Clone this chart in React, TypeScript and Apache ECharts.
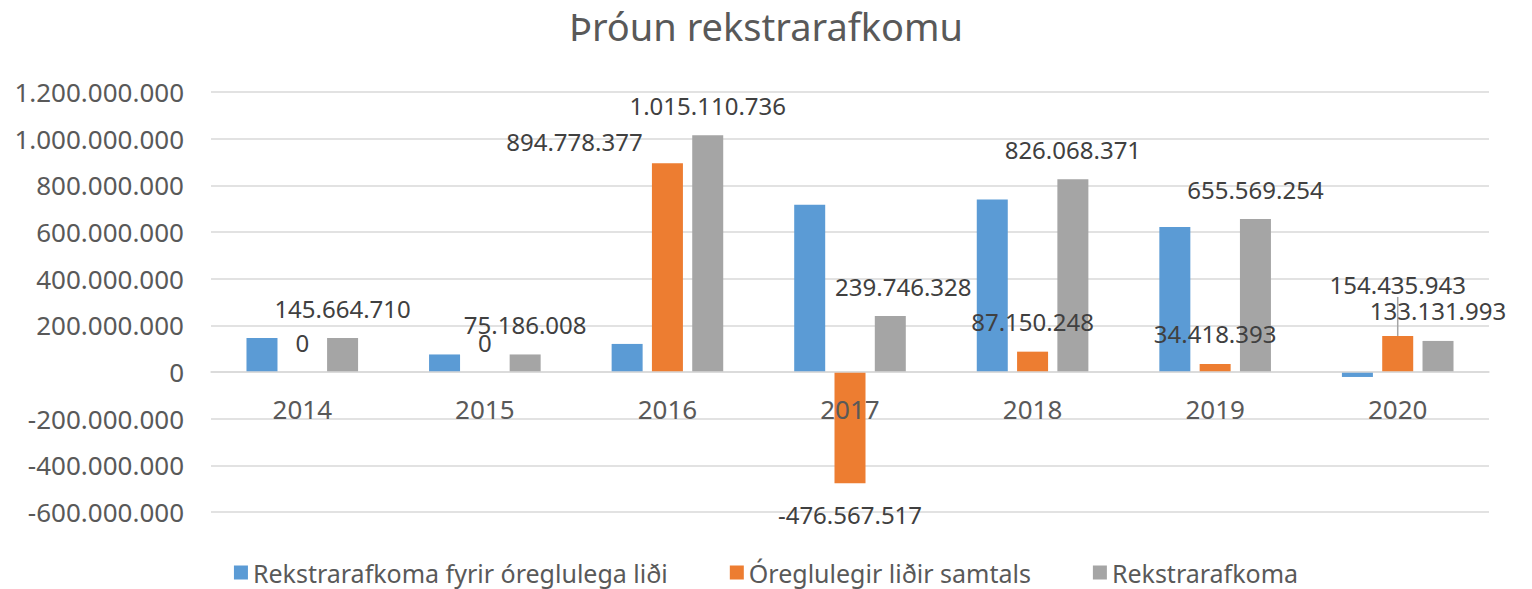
import React, { useEffect, useRef } from "react";
import * as echarts from "echarts";

const categories = ["2014", "2015", "2016", "2017", "2018", "2019", "2020"];
const seriesNames = [
  "Rekstrarafkoma fyrir óreglulega liði",
  "Óreglulegir liðir samtals",
  "Rekstrarafkoma",
];
const beforeIrregular = [145664710, 75186008, 120332359, 716313845, 738918123, 621150861, -21303950];
const irregularItems = [0, 0, 894778377, -476567517, 87150248, 34418393, 154435943];
const operatingResult = [145664710, 75186008, 1015110736, 239746328, 826068371, 655569254, 133131993];

const titleText = "Þróun rekstrarafkomu";
const FONT = "'Noto Sans', 'Open Sans', sans-serif";

const fmt = (v: number) => {
  const s = String(Math.abs(Math.round(v))).replace(/\B(?=(\d{3})+(?!\d))/g, ".");
  return v < 0 ? "-" + s : s;
};

export default function App() {
  const ref = useRef<HTMLDivElement>(null);
  useEffect(() => {
    if (!ref.current) return;
    const chart = echarts.init(ref.current, null, { renderer: "svg" });

    const labelBase = {
      show: true,
      position: "top",
      distance: 18,
      color: "#404040",
      fontSize: 24,
      fontFamily: FONT,
      formatter: (p: any) => fmt(p.value),
    };

    const orangeData = irregularItems.map((v, i) => {
      const item: any = { value: v };
      if (v < 0) item.label = { position: "bottom", distance: 19 };
      if (i === 6) item.labelLine = { show: true };
      return item;
    });

    chart.setOption({
      animation: false,
      backgroundColor: "#ffffff",
      title: {
        text: titleText,
        left: "center",
        top: 2,
        textStyle: { color: "#595959", fontSize: 38, fontWeight: "normal", fontFamily: FONT },
      },
      legend: {
        data: seriesNames,
        left: "center",
        top: 555,
        itemWidth: 14,
        itemHeight: 14,
        itemGap: 62,
        icon: "rect",
        textStyle: { color: "#595959", fontSize: 25, fontFamily: FONT },
      },
      grid: { left: 211, right: 43, top: 92, bottom: 77, containLabel: false },
      xAxis: {
        type: "category",
        data: categories,
        z: 5,
        axisLine: { onZero: true, lineStyle: { color: "#D9D9D9", width: 1.5 } },
        axisTick: { show: false },
        axisLabel: { color: "#595959", fontSize: 26, fontFamily: FONT, margin: -116 },
      },
      yAxis: {
        type: "value",
        min: -600000000,
        max: 1200000000,
        interval: 200000000,
        axisLine: { show: false },
        axisTick: { show: false },
        splitLine: { lineStyle: { color: "#D9D9D9", width: 1.5 } },
        axisLabel: {
          color: "#595959",
          fontSize: 26,
          fontFamily: FONT,
          margin: 27,
          formatter: (v: number) => fmt(v),
        },
      },
      series: [
        {
          name: seriesNames[0],
          type: "bar",
          data: beforeIrregular,
          barWidth: 31,
          barGap: "30%",
          itemStyle: { color: "#5B9BD5" },
        },
        {
          name: seriesNames[1],
          type: "bar",
          data: orangeData,
          barWidth: 31,
          barGap: "30%",
          itemStyle: { color: "#ED7D31" },
          label: labelBase,
          labelLayout: (p: any) =>
            p.dataIndex === 6 ? { dy: -21 } : p.dataIndex === 2 ? { dx: -93, dy: 8 } : {},
          labelLine: { show: false, lineStyle: { color: "#A5A5A5", width: 1.5 } },
        },
        {
          name: seriesNames[2],
          type: "bar",
          data: operatingResult,
          barWidth: 31,
          barGap: "30%",
          itemStyle: { color: "#A5A5A5" },
          label: labelBase,
          labelLayout: (p: any) => (p.dataIndex === 3 ? { dx: 13 } : {}),
        },
      ],
    });
    return () => chart.dispose();
  }, []);

  return (
    <div
      ref={ref}
      style={{ position: "fixed", left: 0, top: 0, width: 1532, height: 589, background: "#fff" }}
    />
  );
}
